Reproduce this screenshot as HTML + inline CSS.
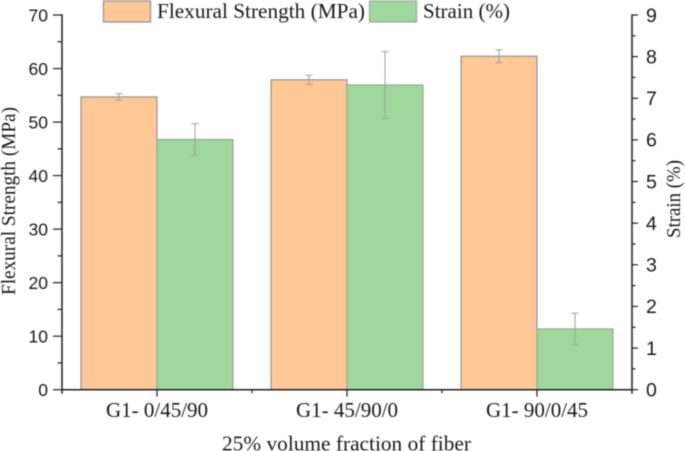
<!DOCTYPE html>
<html>
<head>
<meta charset="utf-8">
<style>
html,body{margin:0;padding:0;background:#fff;width:685px;height:451px;overflow:hidden}
svg{display:block;filter:blur(0.4px)}
.num{font-family:"Liberation Sans",sans-serif;font-size:17.5px;fill:#1a1a1a}
.ser{font-family:"Liberation Serif",serif;fill:#1a1a1a}
</style>
</head>
<body>
<svg id="chart" xmlns="http://www.w3.org/2000/svg" width="685" height="451" viewBox="0 0 685 451">
<g>
<rect x="103.5" y="1" width="47" height="21" fill="#FDC796" stroke="#8f8f8f" stroke-width="1.2"/>
<text class="ser" x="157" y="18" font-size="21" textLength="208" lengthAdjust="spacingAndGlyphs">Flexural Strength (MPa)</text>
<rect x="369.5" y="1" width="47" height="21" fill="#9FD79D" stroke="#9aaa9a" stroke-width="1.2"/>
<text class="ser" x="423" y="18" font-size="21" textLength="87" lengthAdjust="spacingAndGlyphs">Strain (%)</text>
</g>
<text class="ser" transform="translate(15,295) rotate(-90)" font-size="20.5" textLength="188" lengthAdjust="spacingAndGlyphs">Flexural Strength (MPa)</text>
<text class="ser" transform="translate(680,238) rotate(-90)" font-size="20" textLength="78" lengthAdjust="spacingAndGlyphs">Strain (%)</text>
<text class="ser" x="222" y="450.5" font-size="21" textLength="249" lengthAdjust="spacingAndGlyphs">25% volume fraction of fiber</text>
<g id="marks"></g>
<g id="axes"></g>
</svg>
<script>
const categories = ["G1- 0/45/90", "G1- 45/90/0", "G1- 90/0/45"];
const flexuralValues = [54.7, 57.9, 62.3];
const flexuralErrors = [0.6, 0.85, 1.2];
const strainValues = [6.01, 7.32, 1.46];
const strainErrors = [0.38, 0.8, 0.375];
const leftTicks = [0, 10, 20, 30, 40, 50, 60, 70];
const rightTicks = [0, 1, 2, 3, 4, 5, 6, 7, 8, 9];

const NS = "http://www.w3.org/2000/svg";
const plotLeft = 62, plotRight = 632, plotTop = 15, plotBottom = 389.7;
const xScale = c => plotLeft + (c + 0.5) * (plotRight - plotLeft) / categories.length;
const yLeft = v => plotBottom - v / 70 * (plotBottom - plotTop);
const yRight = v => plotBottom - v / 9 * (plotBottom - plotTop);
const barWidth = (plotRight - plotLeft) / categories.length * 0.4;
const marks = document.getElementById("marks");
const axes = document.getElementById("axes");

function make(tag, attrs, parent) {
  const el = document.createElementNS(NS, tag);
  for (const k in attrs) el.setAttribute(k, attrs[k]);
  parent.appendChild(el);
  return el;
}
function seg(x1, y1, x2, y2, stroke, sw, parent) {
  return make("line", { x1, y1, x2, y2, stroke, "stroke-width": sw }, parent);
}
function errorBar(cx, yHi, yLo, name) {
  const g = make("g", {}, marks);
  
  
  seg(cx, yHi, cx, yLo, "#a0a0a0", 1, g);
  seg(cx - 3.5, yHi, cx + 3.5, yHi, "#a0a0a0", 1, g);
  seg(cx - 3.5, yLo, cx + 3.5, yLo, "#a0a0a0", 1, g);
}

categories.forEach((cat, i) => {
  const cx = xScale(i);
  const fy = yLeft(flexuralValues[i]);
  const sy = yRight(strainValues[i]);
  const fb = make("rect", { x: cx - barWidth, y: fy, width: barWidth, height: plotBottom - fy, fill: "#FDC796", stroke: "#8f8f8f", "stroke-width": 1.1 }, marks);
  
  
  const sb = make("rect", { x: cx, y: sy, width: barWidth, height: plotBottom - sy, fill: "#9FD79D", stroke: "#94a594", "stroke-width": 1.1 }, marks);
  
  
  errorBar(cx - barWidth / 2, yLeft(flexuralValues[i] + flexuralErrors[i]), yLeft(flexuralValues[i] - flexuralErrors[i]), "error-bar-flexural");
  errorBar(cx + barWidth / 2, yRight(strainValues[i] + strainErrors[i]), yRight(strainValues[i] - strainErrors[i]), "error-bar-strain");
  const t = make("text", { x: cx, y: 417, "text-anchor": "middle", "font-size": 21, class: "ser" }, axes);
  
  
  t.textContent = cat;
});

const axisColor = "#222";
const leftLine = seg(plotLeft, plotTop - 0.7, plotLeft, plotBottom + 4, axisColor, 1.5, axes);


const rightLine = seg(plotRight, plotTop - 0.7, plotRight, plotBottom + 4, axisColor, 1.5, axes);


const bottomLine = seg(plotLeft - 0.7, plotBottom, plotRight + 0.7, plotBottom, axisColor, 1.5, axes);



leftTicks.forEach((v, i) => {
  const y = yLeft(v);
  seg(plotLeft - 9, y, plotLeft, y, axisColor, 1.2, axes);
  if (i < leftTicks.length - 1) {
    const m = yLeft((v + leftTicks[i + 1]) / 2);
    seg(plotLeft - 4.5, m, plotLeft, m, axisColor, 1.2, axes);
  }
  const t = make("text", { x: plotLeft - 14, y: y + 6.3, "text-anchor": "end", class: "num" }, axes);
  
  
  t.textContent = v;
});
rightTicks.forEach((v, i) => {
  const y = yRight(v);
  seg(plotRight, y, plotRight + 6, y, axisColor, 1.2, axes);
  if (i < rightTicks.length - 1) {
    const m = yRight((v + rightTicks[i + 1]) / 2);
    seg(plotRight, m, plotRight + 3.5, m, axisColor, 1.2, axes);
  }
  const t = make("text", { x: plotRight + 14, y: y + 6.8, class: "num" }, axes);
  
  
  t.setAttribute('style', 'font-size:19.5px');
  t.textContent = v;
});
categories.forEach((cat, i) => {
  const x = xScale(i);
  seg(x, plotBottom, x, plotBottom + 7, axisColor, 1.2, axes);
  if (i < categories.length - 1) {
    const m = (x + xScale(i + 1)) / 2;
    seg(m, plotBottom, m, plotBottom + 3.5, axisColor, 1.2, axes);
  }
});
</script>
</body>
</html>
